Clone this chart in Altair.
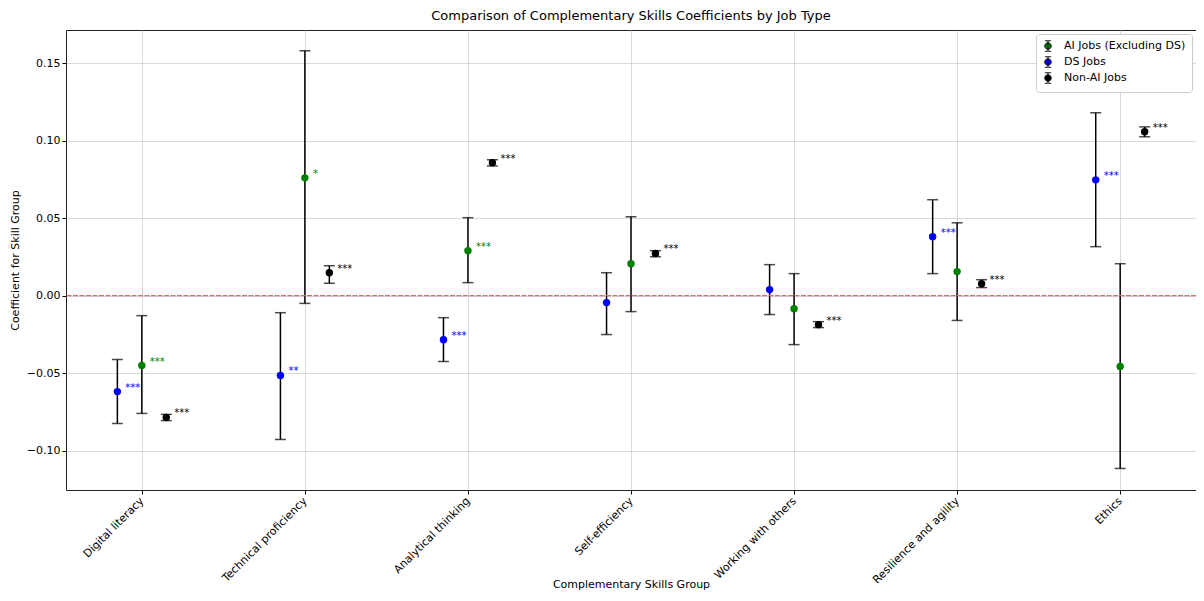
import json
import altair as alt
import pandas as pd

skills = ["Digital literacy", "Technical proficiency", "Analytical thinking",
          "Self-efficiency", "Working with others", "Resilience and agility", "Ethics"]
series = ["AI Jobs (Excluding DS)", "DS Jobs", "Non-AI Jobs"]
colors = ["green", "blue", "black"]
offsets = [0.0, -0.15, 0.15]

ai_coef = [-0.0451, 0.0760, 0.0290, 0.0206, -0.0084, 0.0155, -0.0457]
ai_lo = [-0.0760, -0.0050, 0.0084, -0.0103, -0.0316, -0.0160, -0.1115]
ai_hi = [-0.0129, 0.1580, 0.0503, 0.0509, 0.0142, 0.0470, 0.0206]
ai_sig = ["***", "*", "***", "", "", "", ""]

ds_coef = [-0.0619, -0.0515, -0.0284, -0.0045, 0.0039, 0.0380, 0.0747]
ds_lo = [-0.0825, -0.0928, -0.0425, -0.0251, -0.0122, 0.0142, 0.0316]
ds_hi = [-0.0412, -0.0110, -0.0142, 0.0148, 0.0200, 0.0619, 0.1180]
ds_sig = ["***", "**", "***", "", "", "***", "***"]

non_coef = [-0.0786, 0.0148, 0.0857, 0.0272, -0.0187, 0.0077, 0.1057]
non_lo = [-0.0806, 0.0080, 0.0837, 0.0251, -0.0206, 0.0052, 0.1025]
non_hi = [-0.0766, 0.0193, 0.0877, 0.0290, -0.0168, 0.0103, 0.1089]
non_sig = ["***", "***", "***", "***", "***", "***", "***"]

rows = []
for s, off, coef, lo, hi, sig in zip(
        series, offsets,
        [ai_coef, ds_coef, non_coef], [ai_lo, ds_lo, non_lo],
        [ai_hi, ds_hi, non_hi], [ai_sig, ds_sig, non_sig]):
    for i, sk in enumerate(skills):
        rows.append(dict(series=s, skill=sk, pos=i + off, coef=coef[i],
                         lo=lo[i], hi=hi[i], sig=sig[i]))
df = pd.DataFrame(rows)

FONT = "DejaVu Sans"
label_expr = json.dumps(skills) + "[datum.value]"

x_enc = alt.X("pos:Q",
              scale=alt.Scale(domain=[-0.465, 6.465], nice=False, zero=False),
              axis=alt.Axis(values=list(range(len(skills))), labelExpr=label_expr,
                            labelAngle=-45, labelAlign="right", labelBaseline="middle",
                            labelPadding=5, labelFontSize=11, tickSize=4,
                            title="Complementary Skills Group", titleFontSize=11,
                            titleFontWeight="normal", titleY=94, titleBaseline="middle",
                            grid=True))
y_scale = alt.Scale(domain=[-0.1254, 0.1714], nice=False, zero=False)
y_axis = alt.Axis(values=[-0.10, -0.05, 0.0, 0.05, 0.10, 0.15], format=".2f",
                  labelFontSize=11, tickSize=4, title="Coefficient for Skill Group",
                  titleFontSize=11, titleFontWeight="normal", titlePadding=6, grid=True)
color_scale = alt.Scale(domain=series, range=colors)

base = alt.Chart(df).encode(x=x_enc)

bars = base.mark_rule(color="black", strokeWidth=1.5).encode(
    y=alt.Y("lo:Q", scale=y_scale, axis=y_axis), y2="hi:Q")
cap_lo = base.mark_tick(color="black", orient="horizontal", size=11, thickness=1.5).encode(
    y=alt.Y("lo:Q", scale=y_scale, axis=y_axis))
cap_hi = base.mark_tick(color="black", orient="horizontal", size=11, thickness=1.5).encode(
    y=alt.Y("hi:Q", scale=y_scale, axis=y_axis))

legend_path = ("M-0.6,-1H0.6M0,-1V1M-0.6,1H0.6"
               "M0.62,0A0.62,0.62,0,1,1,-0.62,0A0.62,0.62,0,1,1,0.62,0Z")

points = base.mark_circle(size=55, opacity=1).encode(
    y=alt.Y("coef:Q", scale=y_scale, axis=y_axis),
    color=alt.Color("series:N", scale=color_scale, sort=series,
                    legend=alt.Legend(title=None, orient="top-right", offset=4,
                                      symbolType=legend_path, symbolSize=110,
                                      symbolStrokeColor="black", symbolStrokeWidth=0.9,
                                      symbolOpacity=1,
                                      labelFontSize=11, rowPadding=0, padding=6,
                                      fillColor="white", strokeColor="#cccccc",
                                      cornerRadius=3, labelOffset=10)))

stars = base.transform_filter(alt.datum.sig != "").mark_text(
    align="left", baseline="middle", dx=8, dy=-4, fontSize=10, font=FONT).encode(
    y=alt.Y("coef:Q", scale=y_scale, axis=y_axis),
    text="sig:N",
    color=alt.Color("series:N", scale=color_scale, legend=None))

zero = alt.Chart(pd.DataFrame({"y": [0.0]})).mark_rule(
    color="#ff6060", opacity=1, strokeDash=[5, 1.5], strokeWidth=1.4).encode(
    y=alt.Y("y:Q", scale=y_scale, axis=y_axis))

chart = alt.layer(bars, cap_lo, cap_hi, zero, points, stars).properties(
    width=1130, height=460,
    title=alt.TitleParams("Comparison of Complementary Skills Coefficients by Job Type",
                          fontSize=13, fontWeight="normal", font=FONT, offset=7),
    autosize=alt.AutoSizeParams(type="none"),
    padding={"left": 58, "top": 22, "right": 0, "bottom": 100},
).configure(font=FONT).configure_view(
    stroke="#222222", strokeWidth=1
).configure_axis(
    gridColor="#cfcfcf", gridWidth=0.8, domain=False, tickColor="black",
    labelColor="black", titleColor="black", labelFont=FONT, titleFont=FONT
).configure_legend(labelFont=FONT, labelColor="black")

chart.save("out.html", embed_options={"renderer": "svg", "actions": False})
